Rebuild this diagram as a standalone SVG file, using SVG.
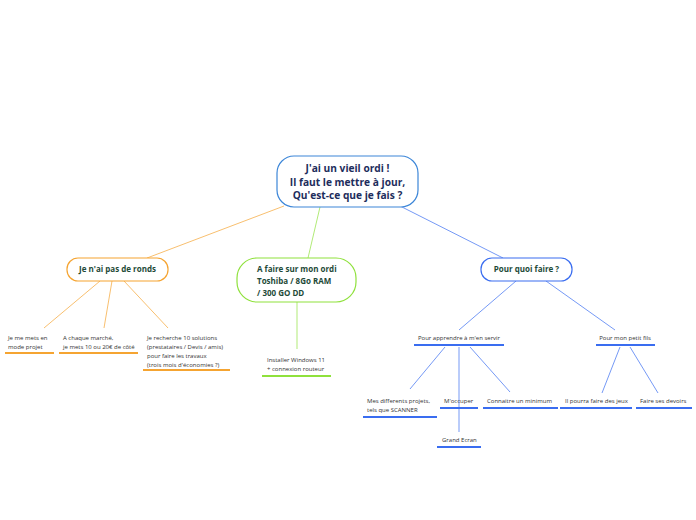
<svg xmlns="http://www.w3.org/2000/svg" width="696" height="520" viewBox="0 0 696 520">
<style>
.c{font-family:"Open Sans","Noto Sans",sans-serif}
.t0{font-size:10.2px;font-weight:bold;fill:#1d2d5c;text-anchor:middle}
.t1{font-size:8px;font-weight:bold;fill:#1e4a38}
.lf{font-size:6px;fill:#333}
.o{stroke:#f5a431;fill:none}
.g{stroke:#8fe13c;fill:none}
.b{stroke:#3a6df0;fill:none}
.ul{stroke-width:2}
</style>
<rect width="696" height="520" fill="#fff"/>
<g id="connectors" stroke-width="0.7">
<line class="o" x1="284" y1="206" x2="147" y2="258"/>
<line class="g" x1="320" y1="207" x2="308" y2="258"/>
<line class="b" x1="400" y1="206" x2="503" y2="258"/>
<line class="o" x1="100" y1="281" x2="44" y2="328"/>
<line class="o" x1="112" y1="281" x2="104" y2="328"/>
<line class="o" x1="124" y1="281" x2="168" y2="328"/>
<line class="g" x1="297" y1="302" x2="297" y2="349"/>
<line class="b" x1="516" y1="281" x2="459" y2="330"/>
<line class="b" x1="546" y1="281" x2="615" y2="330"/>
<line class="b" x1="445" y1="347" x2="410" y2="389"/>
<line class="b" x1="459" y1="347" x2="459" y2="432"/>
<line class="b" x1="470" y1="347" x2="510" y2="392"/>
<line class="b" x1="620" y1="347" x2="602" y2="393"/>
<line class="b" x1="630" y1="347" x2="658" y2="393"/>
</g>
<g id="root">
<rect x="277" y="156" width="141" height="51" rx="17" fill="#fff" stroke="#3c86d8" stroke-width="1.2"/>
<text class="c t0" x="347.5" y="172">J'ai un vieil ordi !</text>
<text class="c t0" x="347.5" y="185.5">Il faut le mettre à jour,</text>
<text class="c t0" x="347.5" y="199">Qu'est-ce que je fais ?</text>
</g>
<g id="n1">
<rect x="67" y="258" width="101" height="23" rx="11" fill="#fff" stroke="#f5a431" stroke-width="1.2"/>
<text class="c t1" x="117.5" y="272" text-anchor="middle">Je n'ai pas de ronds</text>
</g>
<g id="n2">
<rect x="237" y="258" width="119" height="44" rx="20" fill="#fff" stroke="#8fe13c" stroke-width="1.2"/>
<text class="c t1" x="257" y="272">A faire sur mon ordi</text>
<text class="c t1" x="257" y="284">Toshiba / 8Go RAM</text>
<text class="c t1" x="257" y="296">/ 300 GO DD</text>
</g>
<g id="n3">
<rect x="481" y="258" width="91" height="23" rx="11" fill="#fff" stroke="#3a6df0" stroke-width="1.2"/>
<text class="c t1" x="526.5" y="272" text-anchor="middle">Pour quoi faire ?</text>
</g>
<g id="l1">
<text class="c lf" x="8" y="340">Je me mets en</text>
<text class="c lf" x="8" y="349">mode projet</text>
<line class="o ul" x1="5" y1="353" x2="54" y2="353"/>
</g>
<g id="l2">
<text class="c lf" x="63" y="340">A chaque marché,</text>
<text class="c lf" x="63" y="349">je mets 10 ou 20€ de côté</text>
<line class="o ul" x1="59" y1="353" x2="138" y2="353"/>
</g>
<g id="l3">
<text class="c lf" x="147" y="340">Je recherche 10 solutions</text>
<text class="c lf" x="147" y="349">(prestataires / Devis / amis)</text>
<text class="c lf" x="147" y="358">pour faire les travaux</text>
<text class="c lf" x="147" y="367">(trois mois d'économies ?)</text>
<line class="o ul" x1="143" y1="370" x2="230" y2="370"/>
</g>
<g id="l4">
<text class="c lf" x="267" y="362">Installer Windows 11</text>
<text class="c lf" x="267" y="371">+ connexion routeur</text>
<line class="g ul" x1="262" y1="376" x2="331" y2="376"/>
</g>
<g id="l5">
<text class="c lf" x="459" y="340" text-anchor="middle">Pour apprendre à m'en servir</text>
<line class="b ul" x1="414" y1="345" x2="504" y2="345"/>
</g>
<g id="l6">
<text class="c lf" x="625" y="340" text-anchor="middle">Pour mon petit fils</text>
<line class="b ul" x1="596" y1="345" x2="655" y2="345"/>
</g>
<g id="l7">
<text class="c lf" x="367" y="403">Mes differents projets,</text>
<text class="c lf" x="367" y="412">tels que SCANNER</text>
<line class="b ul" x1="363" y1="417" x2="437" y2="417"/>
</g>
<g id="l8">
<text class="c lf" x="444" y="403">M'occuper</text>
<line class="b ul" x1="440" y1="408" x2="478" y2="408"/>
</g>
<g id="l9">
<text class="c lf" x="487" y="403">Connaitre un minimum</text>
<line class="b ul" x1="483" y1="408" x2="558" y2="408"/>
</g>
<g id="l10">
<text class="c lf" x="442" y="442">Grand Ecran</text>
<line class="b ul" x1="437" y1="447" x2="481" y2="447"/>
</g>
<g id="l11">
<text class="c lf" x="565" y="403">Il pourra faire des jeux</text>
<line class="b ul" x1="560" y1="408" x2="632" y2="408"/>
</g>
<g id="l12">
<text class="c lf" x="640" y="403">Faire ses devoirs</text>
<line class="b ul" x1="636" y1="408" x2="692" y2="408"/>
</g>
</svg>
